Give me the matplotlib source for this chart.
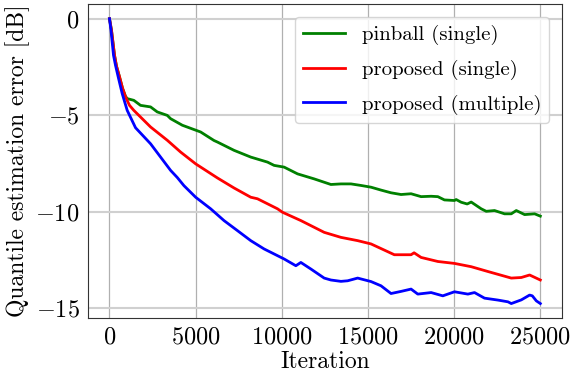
import numpy as np
import matplotlib.pyplot as plt

plt.rcParams['font.family'] = 'serif'
plt.rcParams['font.serif'] = ['cmr10']
plt.rcParams['mathtext.fontset'] = 'cm'
plt.rcParams['axes.formatter.use_mathtext'] = True

# quantile estimation error [dB] vs iteration
pinball_iter = [0, 116, 291, 407, 581, 756, 930, 1029, 1413, 1802, 2384, 2773, 3355, 3547,
                4227, 5017, 5291, 6064, 6262, 7227, 8198, 9169, 9552, 10134, 10913, 11878,
                12849, 13430, 14012, 14593, 15175, 15756, 16337, 16919, 17500, 18082, 18663,
                19052, 19436, 20018, 20117, 20407, 20756, 20989, 21570, 21861, 22343, 22925,
                23314, 23605, 24088, 24669, 25000]
pinball_db = [0.00, -0.59, -1.89, -2.46, -3.01, -3.60, -4.02, -4.14, -4.23, -4.49, -4.57,
              -4.83, -5.01, -5.18, -5.52, -5.78, -5.87, -6.31, -6.39, -6.82, -7.17, -7.43,
              -7.60, -7.69, -8.04, -8.30, -8.59, -8.56, -8.56, -8.64, -8.73, -8.88, -9.02,
              -9.11, -9.07, -9.22, -9.20, -9.22, -9.39, -9.42, -9.37, -9.51, -9.60, -9.50,
              -9.85, -9.98, -9.94, -10.11, -10.11, -9.94, -10.15, -10.11, -10.23]

single_iter = [0, 116, 291, 407, 581, 756, 930, 1163, 1413, 2384, 3355, 4128, 5000, 6262,
               7227, 8198, 8587, 9750, 10041, 11105, 12459, 13430, 14401, 15175, 16529,
               17500, 17675, 18082, 19053, 20018, 20989, 21960, 23314, 23896, 24379, 25000]
single_db = [0.00, -0.59, -1.89, -2.46, -3.01, -3.60, -4.05, -4.49, -4.75, -5.61, -6.30,
             -6.91, -7.52, -8.25, -8.77, -9.25, -9.33, -9.85, -10.03, -10.46, -11.07,
             -11.33, -11.50, -11.67, -12.23, -12.23, -12.13, -12.37, -12.58, -12.68,
             -12.85, -13.10, -13.44, -13.41, -13.28, -13.54]

multi_iter = [0, 87, 233, 349, 523, 738, 1029, 1512, 2384, 2965, 3547, 3936, 4320, 5000,
              5872, 6645, 7424, 8198, 8971, 9552, 10134, 10814, 11105, 11686, 12459, 12849,
              13430, 13820, 14401, 15175, 15756, 16337, 16919, 17500, 17890, 18663, 19343,
              20018, 20797, 21181, 21762, 22541, 23123, 23314, 23896, 24379, 24535, 24768,
              25000]
multi_db = [0.00, -0.59, -1.89, -2.41, -3.08, -3.88, -4.75, -5.65, -6.48, -7.17, -7.86,
            -8.23, -8.65, -9.25, -9.85, -10.46, -10.98, -11.50, -11.93, -12.19, -12.45,
            -12.80, -12.63, -12.97, -13.44, -13.54, -13.61, -13.58, -13.44, -13.62, -13.84,
            -14.24, -14.13, -14.01, -14.27, -14.19, -14.36, -14.15, -14.27, -14.19, -14.48,
            -14.58, -14.67, -14.76, -14.57, -14.32, -14.36, -14.62, -14.76]

fig = plt.figure(figsize=(5.71, 3.73), dpi=100)
ax = fig.add_axes([0.154, 0.148, 0.830, 0.840])

ax.plot(pinball_iter, pinball_db, color='green', lw=2, label='pinball (single)')
ax.plot(single_iter, single_db, color='red', lw=2, label='proposed (single)')
ax.plot(multi_iter, multi_db, color='blue', lw=2, label='proposed (multiple)')

ax.set_xticks([0, 5000, 10000, 15000, 20000, 25000])
ax.set_yticks([0, -5, -10, -15])
ax.grid(axis='x', color='#b0b0b0', lw=0.9)
ax.grid(axis='y', color='#d0d0d0', lw=1.5)
ax.set_axisbelow(True)
ax.tick_params(length=0, labelsize=17.5, pad=6)
for s in ax.spines.values():
    s.set_color('#333333')

ax.set_xlabel('Iteration', fontsize=17, labelpad=2)
ax.set_ylabel('Quantile estimation error [dB]', fontsize=17, labelpad=4)
ax.legend(loc='upper right', fontsize=15, handlelength=2.0, borderaxespad=0.6,
          labelspacing=0.7, borderpad=0.4)

fig.savefig('out.png')
